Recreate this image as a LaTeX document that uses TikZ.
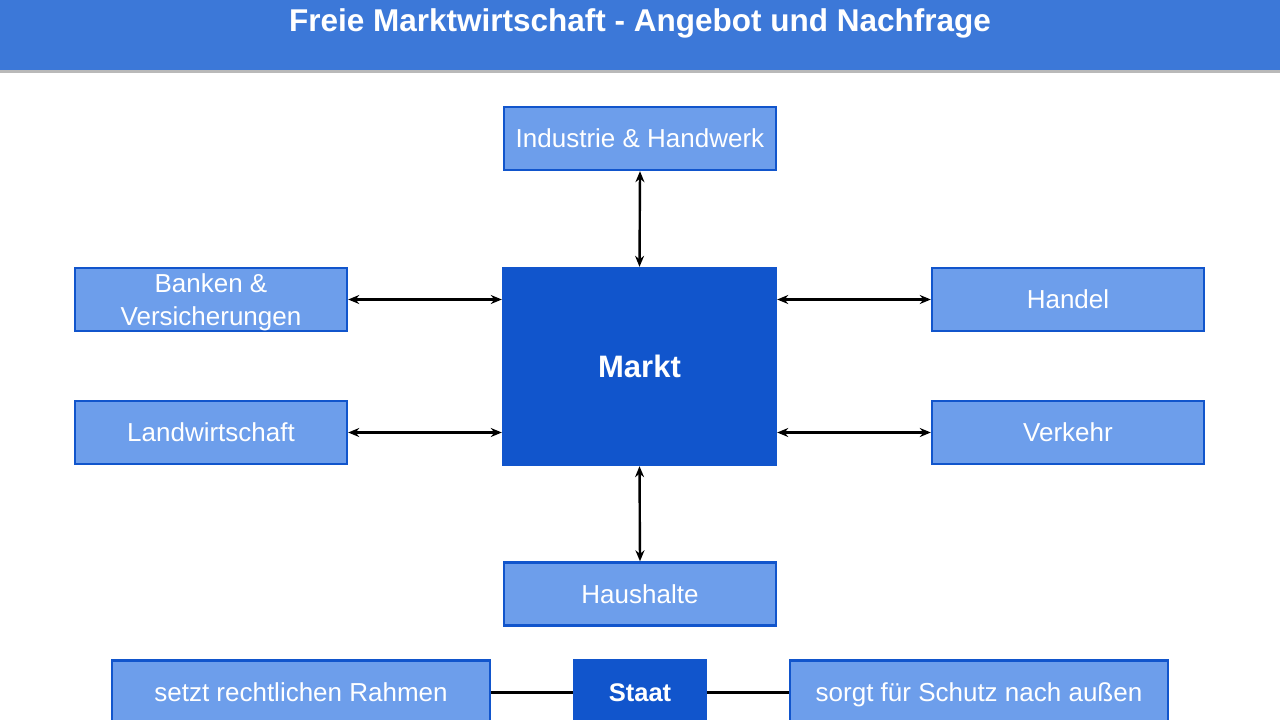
\documentclass[tikz,border=0pt]{standalone}
\usepackage{fontspec}
\setmainfont{Liberation Sans}
\usetikzlibrary{arrows.meta}
\definecolor{titlebar}{HTML}{3C78D8}
\definecolor{lightbox}{HTML}{6D9EEB}
\definecolor{darkbox}{HTML}{1155CC}
\begin{document}
\begin{tikzpicture}[x=1pt,y=-1pt,
  lbox/.style={draw=darkbox,line width=2.4pt,fill=lightbox,text=white,minimum width=272pt,minimum height=63pt,inner sep=0pt,align=center,font=\fontsize{26}{31}\selectfont,text height=18.6pt,text depth=0pt},
  dbox/.style={draw=darkbox,line width=2.4pt,fill=darkbox,text=white,inner sep=0pt,align=center,font=\bfseries\fontsize{31}{36}\selectfont,text height=22.3pt,text depth=0pt},
  biarrow/.style={draw=black,line width=2.4pt,{Stealth[length=11pt,width=9pt]}-{Stealth[length=11pt,width=9pt]}},
  link/.style={draw=black,line width=2.2pt}]
\useasboundingbox (0,0) rectangle (1280,720);
\begin{scope}
\clip (0,0) rectangle (1280,720);
\fill[gray!55] (0,69) rectangle (1280,73);
\fill[titlebar] (0,0) rectangle (1280,70);
\node[text=white,font=\bfseries\fontsize{31.5}{36}\selectfont,text height=22.6pt,text depth=0pt,inner sep=0pt] (title) at (640,20.5) {Freie Marktwirtschaft - Angebot und Nachfrage};

\node[lbox,text height=,text depth=-4pt,font=\fontsize{26}{32.5}\selectfont] (bank) at (211,299.5) {Banken \&\\Versicherungen};
\node[lbox] (ind) at (640,138.5) {Industrie \& Handwerk};
\node[lbox] (land) at (211,432.5) {Landwirtschaft};
\node[dbox,minimum width=273pt,minimum height=197pt] (markt) at (639.5,366.5) {Markt};
\node[lbox] (handel) at (1068,299.5) {Handel};
\node[lbox] (verkehr) at (1068,432.5) {Verkehr};
\node[lbox] (haus) at (640,594) {Haushalte};

\node[lbox,minimum width=378pt,minimum height=64pt] (recht) at (301,692.5) {setzt rechtlichen Rahmen};
\node[dbox,minimum width=132pt,minimum height=64pt,font=\bfseries\fontsize{25.5}{30}\selectfont,text height=18.3pt] (staat) at (640,692.5) {Staat};
\node[lbox,minimum width=378pt,minimum height=64pt] (schutz) at (979,692.5) {sorgt für Schutz nach außen};

\draw[biarrow] (ind.south) -- (markt.north);
\draw[biarrow] (haus.north) -- (markt.south);
\draw[biarrow] (bank.east) -- (markt.west |- bank.east);
\draw[biarrow] (land.east) -- (markt.west |- land.east);
\draw[biarrow] (handel.west) -- (markt.east |- handel.west);
\draw[biarrow] (verkehr.west) -- (markt.east |- verkehr.west);
\draw[link] (recht.east) -- (staat.west);
\draw[link] (staat.east) -- (schutz.west);
\end{scope}
\end{tikzpicture}
\end{document}
